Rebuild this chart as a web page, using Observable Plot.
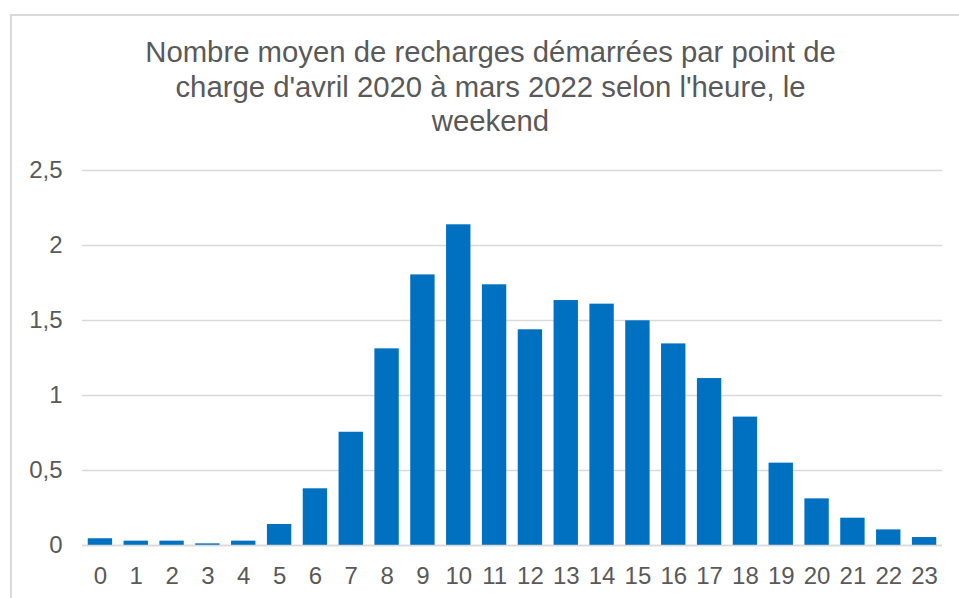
<!DOCTYPE html>
<html><head><meta charset="utf-8">
<script src="https://cdn.jsdelivr.net/npm/d3@7"></script>
<script src="https://cdn.jsdelivr.net/npm/@observablehq/plot@0.6"></script>
<style>
html,body{margin:0;padding:0;background:#fff;}
#wrap{position:relative;width:959px;height:598px;overflow:hidden;font-family:"Liberation Sans",Arial,sans-serif;}
#frame{position:absolute;left:10px;top:14px;width:2000px;height:2000px;border-left:2px solid #d9d9d9;border-top:2px solid #d9d9d9;z-index:2;pointer-events:none;}
#title{position:absolute;left:22px;width:937px;top:35px;text-align:center;font-size:29.3px;line-height:34.5px;color:#595959;z-index:1;}
#chart{position:absolute;left:0;top:150px;}
</style></head><body>
<div id="wrap">
  <div id="frame"></div>
  <div id="title">Nombre moyen de recharges démarrées par point de<br>charge d'avril 2020 à mars 2022 selon l'heure, le<br>weekend</div>
  <div id="chart"></div>
</div>
<script>
const hours = ["0","1","2","3","4","5","6","7","8","9","10","11","12","13","14","15","16","17","18","19","20","21","22","23"];
const values = [0.045, 0.029, 0.029, 0.011, 0.029, 0.14, 0.378, 0.755, 1.311, 1.804, 2.138, 1.738, 1.438, 1.633, 1.609, 1.498, 1.344, 1.113, 0.856, 0.549, 0.311, 0.182, 0.104, 0.053];
const yTicks = [0, 0.5, 1, 1.5, 2, 2.5];
const yTickLabels = ["0", "0,5", "1", "1,5", "2", "2,5"];

const data = hours.map((h, i) => ({hour: h, value: values[i]}));
const grey = "#595959";

const chart = Plot.plot({
  width: 959,
  height: 448,
  marginTop: 20,
  marginBottom: 53,
  marginLeft: 82,
  marginRight: 17,
  style: {background: "transparent", fontFamily: "'Liberation Sans', Arial, sans-serif", fontSize: "24px", color: grey},
  x: {domain: hours, paddingInner: 0.32, paddingOuter: 0.16, round: false, label: null},
  y: {domain: [0, 2.5], label: null},
  marks: [
    Plot.gridY(yTicks, {stroke: "#d9d9d9", strokeOpacity: 1, strokeWidth: 1.5}),
    Plot.barY(data, {x: "hour", y: "value", fill: "#0070C0"}),
    Plot.ruleY([0], {stroke: "#d9d9d9", strokeWidth: 1.5}),
    Plot.axisY({ticks: yTicks, tickSize: 0, tickPadding: 20, tickFormat: d => yTickLabels[yTicks.indexOf(d)], fill: grey, fontSize: 24, label: null}),
    Plot.axisX({tickSize: 0, tickPadding: 21, fill: grey, fontSize: 24, label: null})
  ]
});
document.getElementById("chart").appendChild(chart);
</script>
</body></html>
